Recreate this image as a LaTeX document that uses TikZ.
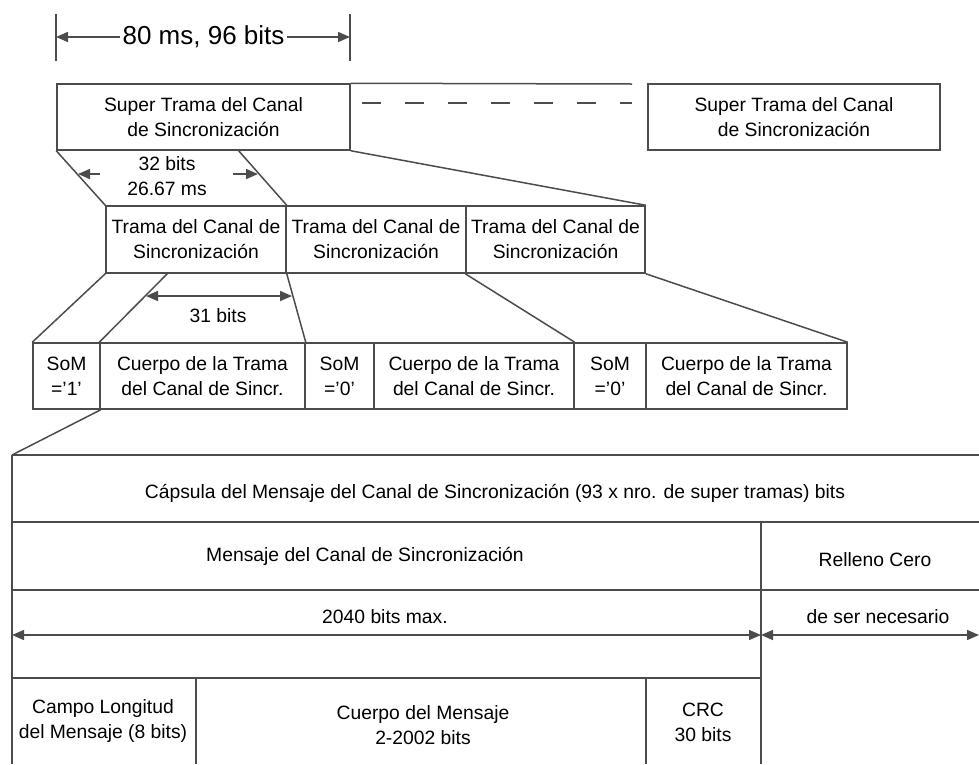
\documentclass[tikz,border=0pt]{standalone}
\usepackage{fontspec}
\setmainfont{Liberation Sans}
\usetikzlibrary{arrows.meta}

\begin{document}
\begin{tikzpicture}[x=1pt,y=-1pt,line width=1.5pt,color=black!70]
        \tikzstyle{every node}=[text=black,font=\fontsize{19.3}{25}\selectfont,align=center,inner sep=0pt]
        \tikzstyle{frame}=[draw=black!70,minimum height=66pt]
        \tikzstyle{dim}=[-{Triangle[length=12pt,width=10pt]}]
        \tikzstyle{dimboth}=[{Triangle[length=12pt,width=10pt]}-{Triangle[length=12pt,width=10pt]}]
        \useasboundingbox (0,0) rectangle (979,764);
        % super tramas
        \node[frame,minimum width=293pt] (sup1) at (203.5,117) {Super Trama del Canal\\de Sincronización};
        \node[frame,minimum width=292pt] (sup2) at (794,117) {Super Trama del Canal\\de Sincronización};
        \coordinate (gapend) at (632,84);
        \coordinate (dashbeg) at (362,103);
        \coordinate (dashend) at (632,103);
        \draw (sup1.north east) -- (gapend);
        \draw[dash pattern=on 19pt off 24pt] (dashbeg) -- (dashend);
        % 80 ms
        \coordinate (tickL) at (56,37);
        \coordinate (tickR) at (350,37);
        \draw ([yshift=23pt]tickL) -- ([yshift=-24pt]tickL);
        \draw ([yshift=23pt]tickR) -- ([yshift=-24pt]tickR);
        \node[font=\fontsize{26}{30}\selectfont,inner sep=2pt] (total) at (203.5,37) {80 ms, 96 bits};
        \draw[dim] (total) -- (tickL);
        \draw[dim] (total) -- (tickR);
        % tramas
        \node[frame,minimum width=180pt,minimum height=67pt] (tr1) at (196,239.5) {Trama del Canal de\\Sincronización};
        \node[frame,minimum width=180pt,minimum height=67pt] (tr2) at (376,239.5) {Trama del Canal de\\Sincronización};
        \node[frame,minimum width=179pt,minimum height=67pt] (tr3) at (555.5,239.5) {Trama del Canal de\\Sincronización};
        \coordinate (sup1cut) at (238,150);
        \draw (sup1.south west) -- (tr1.north west);
        \draw (sup1cut) -- (tr1.north east);
        \draw (sup1.south east) -- (tr3.north east);
        \node (t32) at (167,176.5) {32 bits\\26.67 ms};
        \coordinate (a32l) at (100,174);
        \coordinate (a32le) at (78,174);
        \coordinate (a32r) at (233,174);
        \coordinate (a32re) at (258,174);
        \draw[dim] (a32l) -- (a32le);
        \draw[dim] (a32r) -- (a32re);
        % SoM + cuerpo
        \node[frame,minimum width=67pt] (som1) at (66.5,376) {SoM\\='1'};
        \node[frame,minimum width=205pt] (cu1) at (202.5,376) {Cuerpo de la Trama\\del Canal de Sincr.};
        \node[frame,minimum width=69pt] (som2) at (339.5,376) {SoM\\='0'};
        \node[frame,minimum width=200pt] (cu2) at (474,376) {Cuerpo de la Trama\\del Canal de Sincr.};
        \node[frame,minimum width=72pt] (som3) at (610,376) {SoM\\='0'};
        \node[frame,minimum width=201pt] (cu3) at (746.5,376) {Cuerpo de la Trama\\del Canal de Sincr.};
        \coordinate (tr1cut) at (168,273);
        \draw (tr1.south west) -- (som1.north west);
        \draw (tr1cut) -- (cu1.north west);
        \draw (tr1.south east) -- (cu1.north east);
        \draw (tr3.south west) -- (cu2.north east);
        \draw (tr3.south east) -- (cu3.north east);
        \coordinate (b31l) at (146,296);
        \coordinate (b31r) at (292,296);
        \draw[dimboth] (b31l) -- (b31r);
        \node (t31) at (218,316) {31 bits};
        % capsula
        \coordinate (capNW) at (12,455);
        \draw (som1.south east) -- (capNW);
        \draw (capNW) -- (12,764);
        \draw (capNW) -- (979,455);
        \draw (12,522) -- (979,522);
        \draw (12,590) -- (979,590);
        \draw (761,522) -- (761,764);
        \draw (12,678) -- (761,678);
        \draw (196,678) -- (196,764);
        \draw (646,678) -- (646,764);
        \draw[dimboth] (12,635) -- (761,635);
        \draw[dimboth] (761,635) -- (979,635);
        \node (cap) at (495,493) {Cápsula del Mensaje del Canal de Sincronización (93 x nro. de super tramas) bits};
        \node (msg) at (365,556) {Mensaje del Canal de Sincronización};
        \node (fill) at (875,560) {Relleno Cero};
        \node (max) at (385,617) {2040 bits max.};
        \node (need) at (878,617) {de ser necesario};
        \node (len) at (103,720.5) {Campo Longitud\\del Mensaje (8 bits)};
        \node (body) at (423,725) {Cuerpo del Mensaje\\2-2002 bits};
        \node (crc) at (703,722.5) {CRC\\30 bits};
\end{tikzpicture}
\end{document}
